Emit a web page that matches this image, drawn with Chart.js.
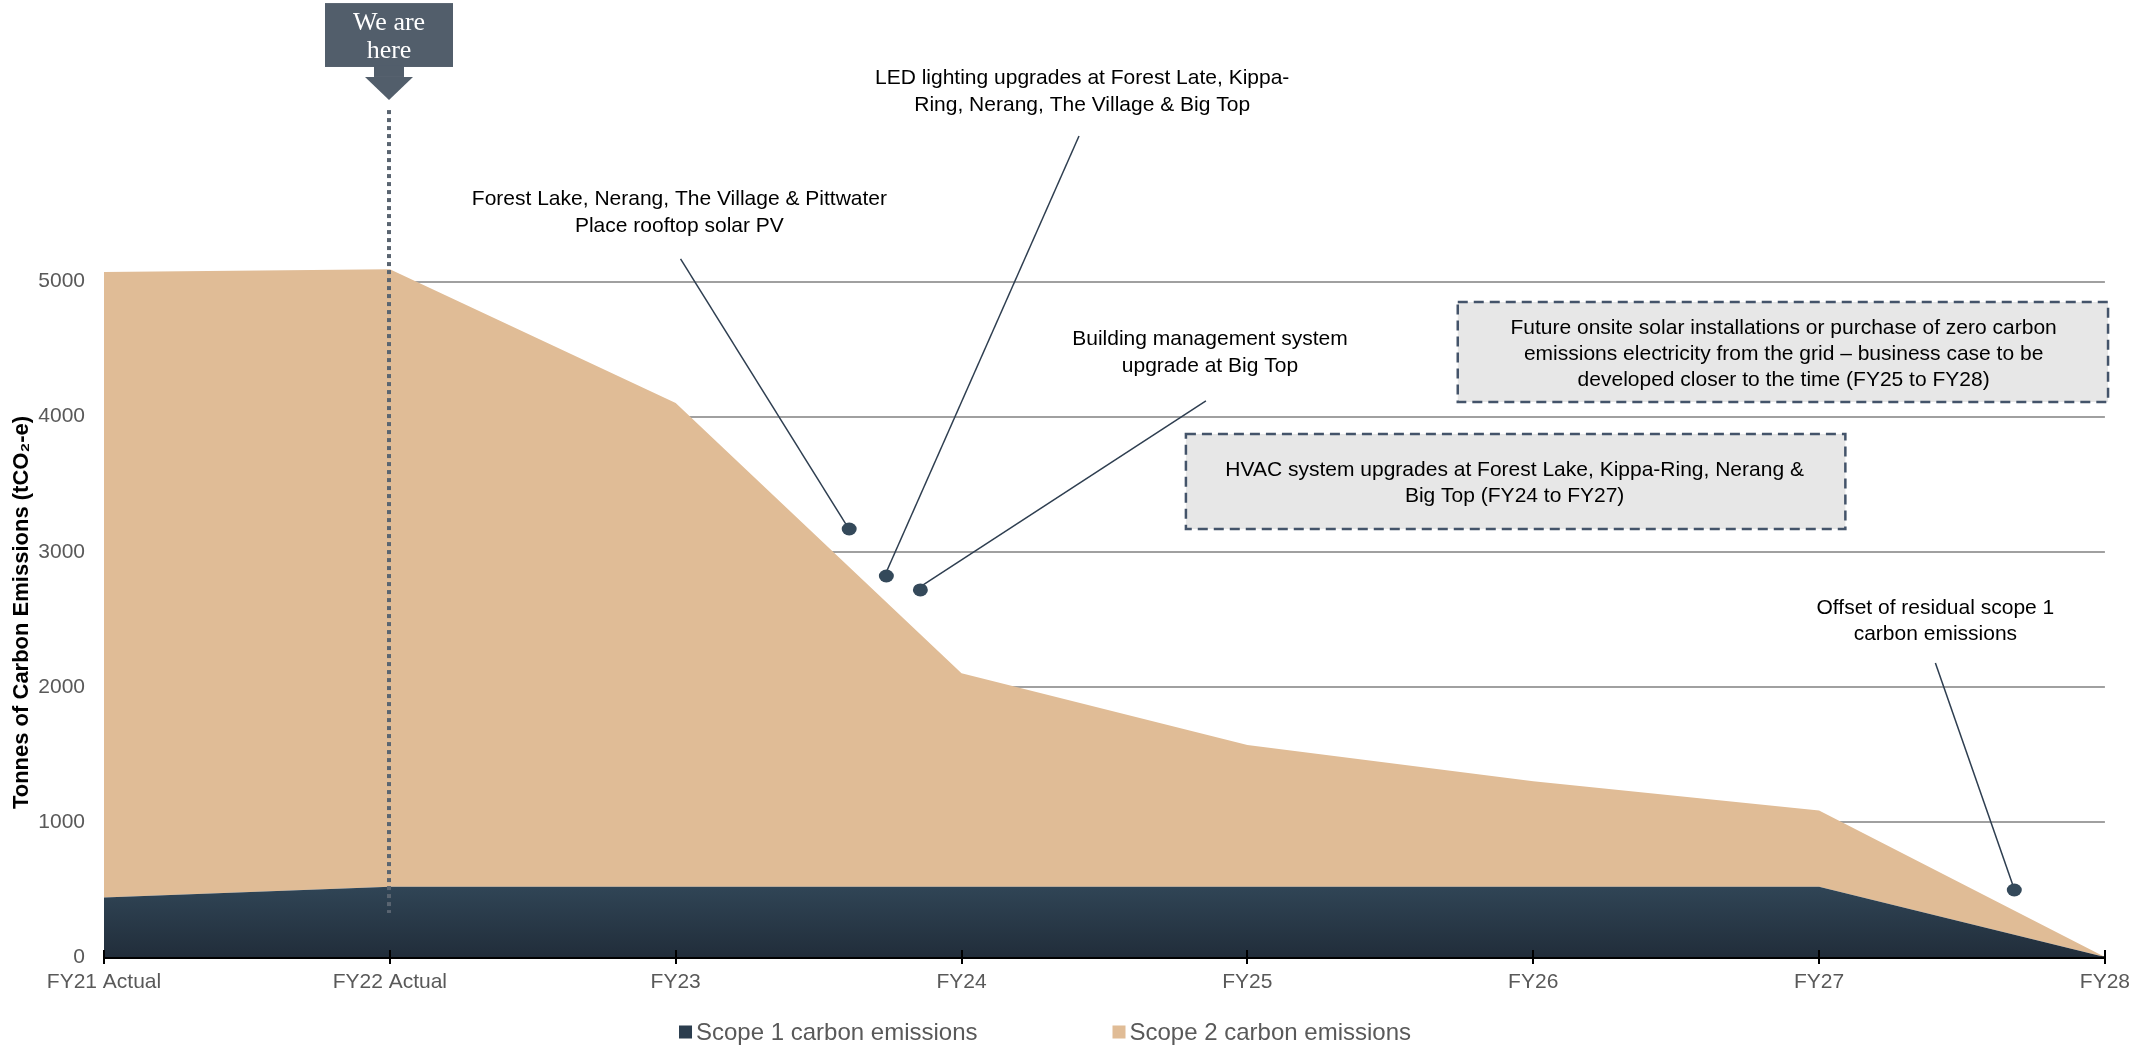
<!DOCTYPE html>
<html>
<head>
<meta charset="utf-8">
<script src="https://cdn.jsdelivr.net/npm/chart.js@4"></script>
<style>
  html, body { margin: 0; padding: 0; background: #ffffff; }
  #wrap { width: 2136px; height: 1045px; position: relative; }
</style>
</head>
<body>
<div id="wrap"><canvas id="c"></canvas></div>
<script>
// ---- data ----
const categories = ['FY21 Actual', 'FY22 Actual', 'FY23', 'FY24', 'FY25', 'FY26', 'FY27', 'FY28'];
const scope1Values = [440, 520, 520, 520, 520, 520, 520, 0];
const scope2Values = [4630, 4570, 3580, 1580, 1050, 780, 565, 0];
const yTickValues = [0, 1000, 2000, 3000, 4000, 5000];
const seriesNames = ['Scope 1 carbon emissions', 'Scope 2 carbon emissions'];
const yTitle = 'Tonnes of Carbon Emissions (tCO\u2082-e)';

// annotation anchors in data space (x = category index, y = value)
const callouts = [
  { lines: ['Forest Lake, Nerang, The Village & Pittwater', 'Place rooftop solar PV'],
    tx: 2.013, ty: [5611, 5411], from: [2.017, 5167], to: [2.597, 3198], dot: [2.607, 3168] },
  { lines: ['LED lighting upgrades at Forest Late, Kippa-', 'Ring, Nerang, The Village & Big Top'],
    tx: 3.422, ty: [6506, 6306], from: [3.411, 6077], to: [2.737, 2850], dot: [2.737, 2820] },
  { lines: ['Building management system', 'upgrade at Big Top'],
    tx: 3.869, ty: [4574, 4375], from: [3.855, 4116], to: [2.859, 2746], dot: [2.856, 2717] },
  { lines: ['Offset of residual scope 1', 'carbon emissions'],
    tx: 6.407, ty: [2583, 2391], from: [6.407, 2176], to: [6.679, 526], dot: [6.683, 496] }
];
const boxes = [
  { lines: ['Future onsite solar installations or purchase of zero carbon',
            'emissions electricity from the grid \u2013 business case to be',
            'developed closer to the time (FY25 to FY28)'],
    x0: 4.736, x1: 7.011, y0: 4848, y1: 4108, tx: 5.876, ty: [4656, 4463, 4271] },
  { lines: ['HVAC system upgrades at Forest Lake, Kippa-Ring, Nerang &', 'Big Top (FY24 to FY27)'],
    x0: 3.785, x1: 6.092, y0: 3871, y1: 3168, tx: 4.935, ty: [3605, 3412] }
];
const marker = { x: 0.996, lines: ['We are', 'here'], boxTop: 7061, boxBottom: 6588, stemEnd: 6514, tip: 6344,
                 lineFrom: 6269, lineTo: 326 };

const TAN = '#E0BC96';
const NAVY = '#2B3D4E';
const SANS = '"Liberation Sans", Arial, sans-serif';

const annotationPlugin = {
  id: 'annot',
  afterDatasetsDraw(chart) {
    const c = chart.ctx, xs = chart.scales.x;
    const y0 = chart.chartArea.bottom;
    c.save();
    c.strokeStyle = '#000';
    c.lineWidth = 2;
    xs.ticks.forEach((t, i) => {
      const x = Math.round(xs.getPixelForTick(i));
      c.beginPath(); c.moveTo(x, y0 - 7); c.lineTo(x, y0); c.stroke();
    });
    c.restore();
  },
  afterDraw(chart) {
    const c = chart.ctx, xs = chart.scales.x, ys = chart.scales.y;
    const X = v => xs.getPixelForValue(v), Y = v => ys.getPixelForValue(v);
    c.save();
    // dashed boxes
    boxes.forEach(b => {
      const l = X(b.x0), r = X(b.x1), t = Y(b.y0), btm = Y(b.y1);
      c.fillStyle = '#E7E7E7';
      c.fillRect(l, t, r - l, btm - t);
      c.setLineDash([10, 6]);
      c.lineWidth = 2.5;
      c.strokeStyle = '#44546A';
      c.strokeRect(l, t, r - l, btm - t);
      c.setLineDash([]);
      c.fillStyle = '#000';
      c.font = '21px ' + SANS;
      c.textAlign = 'center'; c.textBaseline = 'middle';
      b.lines.forEach((s, i) => c.fillText(s, X(b.tx), Y(b.ty[i])));
    });
    // callouts
    callouts.forEach(o => {
      c.fillStyle = '#000';
      c.font = '21px ' + SANS;
      c.textAlign = 'center'; c.textBaseline = 'middle';
      o.lines.forEach((s, i) => c.fillText(s, X(o.tx), Y(o.ty[i])));
      c.strokeStyle = '#2E3E50';
      c.lineWidth = 1.5;
      c.beginPath(); c.moveTo(X(o.from[0]), Y(o.from[1])); c.lineTo(X(o.to[0]), Y(o.to[1])); c.stroke();
      c.fillStyle = '#34495A';
      c.beginPath(); c.ellipse(X(o.dot[0]), Y(o.dot[1]), 7.5, 6.5, 0, 0, Math.PI * 2); c.fill();
    });
    // "We are here" marker
    const mx = Math.round(X(marker.x));
    c.strokeStyle = '#5A6571';
    c.lineWidth = 4;
    c.setLineDash([4, 4]);
    c.beginPath(); c.moveTo(mx, Y(marker.lineFrom)); c.lineTo(mx, Y(marker.lineTo)); c.stroke();
    c.setLineDash([]);
    c.fillStyle = '#525E6B';
    const bt = Y(marker.boxTop), bb = Y(marker.boxBottom);
    c.fillRect(mx - 64, bt, 128, bb - bt);
    c.fillRect(mx - 15, bb - 1, 30, Y(marker.stemEnd) - bb + 1);
    c.beginPath();
    c.moveTo(mx - 24, Y(marker.stemEnd)); c.lineTo(mx + 24, Y(marker.stemEnd)); c.lineTo(mx, Y(marker.tip));
    c.closePath(); c.fill();
    c.fillStyle = '#ffffff';
    c.font = '26px "Liberation Serif", "Times New Roman", serif';
    c.textAlign = 'center'; c.textBaseline = 'middle';
    c.fillText(marker.lines[0], mx, bt + 20);
    c.fillText(marker.lines[1], mx, bt + 48);
    // legend
    const colors = [NAVY, TAN];
    c.font = '24px ' + SANS;
    const box = 13, gap = 4, spacing = 135;
    const widths = seriesNames.map(s => c.measureText(s).width);
    const total = widths.reduce((a, w) => a + box + gap + w, 0) + spacing;
    let lx = 1045 - total / 2;
    const ly = 1032;
    c.textAlign = 'left'; c.textBaseline = 'middle';
    seriesNames.forEach((s, i) => {
      c.fillStyle = colors[i];
      c.fillRect(lx, ly - box / 2, box, box);
      c.fillStyle = '#595959';
      c.fillText(s, lx + box + gap, ly + 1);
      lx += box + gap + widths[i] + spacing;
    });
    c.restore();
  }
};

const ctx = document.getElementById('c');
new Chart(ctx, {
  type: 'line',
  data: {
    labels: categories,
    datasets: [
      {
        label: seriesNames[0],
        data: scope1Values,
        fill: 'origin',
        borderWidth: 0,
        pointRadius: 0,
        tension: 0,
        borderColor: 'rgba(0,0,0,0)',
        backgroundColor: (context) => {
          const chart = context.chart;
          const a = chart.chartArea;
          if (!a || !chart.scales.y) return NAVY;
          const g = chart.ctx.createLinearGradient(0, chart.scales.y.getPixelForValue(520), 0, a.bottom);
          g.addColorStop(0, '#304556');
          g.addColorStop(1, '#212D3A');
          return g;
        }
      },
      {
        label: seriesNames[1],
        data: scope2Values,
        fill: '-1',
        borderWidth: 0,
        pointRadius: 0,
        tension: 0,
        borderColor: 'rgba(0,0,0,0)',
        backgroundColor: TAN
      }
    ]
  },
  options: {
    responsive: true,
    maintainAspectRatio: false,
    animation: false,
    devicePixelRatio: 1,
    layout: { padding: { top: 268, right: 29, bottom: 38, left: 0 } },
    plugins: {
      legend: { display: false },
      tooltip: { enabled: false },
      filler: { propagate: false }
    },
    elements: { line: { borderWidth: 0 } },
    scales: {
      x: {
        offset: false,
        border: { display: true, color: '#000', width: 3 },
        grid: { display: true, drawOnChartArea: false, drawTicks: true, tickLength: 7, color: '#000', lineWidth: 2 },
        ticks: { color: '#595959', font: { family: SANS, size: 21 }, padding: 6, maxRotation: 0, autoSkip: false },
        afterFit: (s) => { s.height = 50; }
      },
      y: {
        stacked: true,
        min: 0,
        max: 5100,
        border: { display: false },
        grid: { color: '#A0A0A0', lineWidth: 2, drawTicks: false },
        ticks: { color: '#595959', font: { family: SANS, size: 21 }, padding: 19, stepSize: 1000,
                 callback: (v) => String(v) },
        afterBuildTicks: (s) => { s.ticks = yTickValues.map(v => ({ value: v })); },
        title: { display: true, text: yTitle, color: '#000', font: { family: SANS, size: 22, weight: 'bold' }, padding: { top: 9, bottom: 0 } },
        afterFit: (s) => { s.width = 104; }
      }
    }
  },
  plugins: [annotationPlugin]
});
</script>
</body>
</html>
